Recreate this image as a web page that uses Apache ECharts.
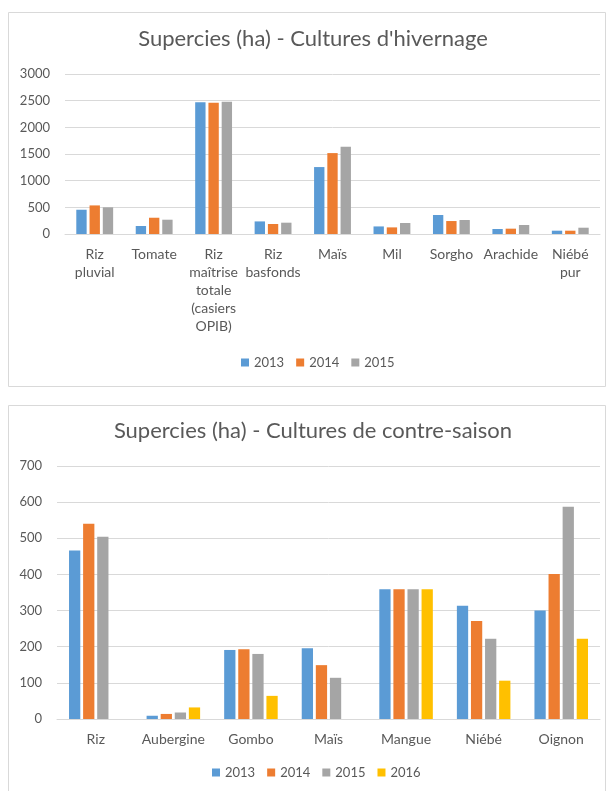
<!DOCTYPE html>
<html>
<head>
<meta charset="utf-8">
<script src="https://cdn.jsdelivr.net/npm/echarts@6/dist/echarts.min.js"></script>
<style>
  html, body { margin: 0; padding: 0; background: #fff; }
  #hivernage { position: absolute; left: 0; top: 0; width: 614px; height: 395px; }
  #contreSaison { position: absolute; left: 0; top: 395px; width: 614px; height: 396px; }
</style>
</head>
<body>
<div id="hivernage"></div>
<div id="contreSaison"></div>
<script>
// cultures d'hivernage
var hivCategories = ["Riz\npluvial", "Tomate", "Riz\nmaîtrise\ntotale\n(casiers\nOPIB)", "Riz\nbasfonds", "Maïs", "Mil", "Sorgho", "Arachide", "Niébé\npur"];
var hiv2013 = [455, 150, 2470, 236, 1255, 142, 356, 94, 62];
var hiv2014 = [536, 305, 2460, 187, 1517, 124, 243, 100, 62];
var hiv2015 = [500, 268, 2480, 212, 1635, 206, 262, 169, 118];

// cultures de contre-saison
var csCategories = ["Riz", "Aubergine", "Gombo", "Maïs", "Mangue", "Niébé", "Oignon"];
var cs2013 = [466, 9, 191, 196, 359, 313, 300];
var cs2014 = [540, 14, 193, 149, 359, 271, 401];
var cs2015 = [504, 18, 180, 114, 359, 222, 587];
var cs2016 = ["-", 32, 64, "-", 359, 106, 222];

var years = ["2013", "2014", "2015", "2016"];
var colors = ["#5B9BD5", "#ED7D31", "#A5A5A5", "#FFC000"];
var txt = "#595959";
var font = "Lato";

function frame(y, h) {
  return [{
    type: "rect",
    shape: { x: 8.5, y: y + 0.5, width: 597, height: h },
    style: { fill: "none", stroke: "#D9D9D9", lineWidth: 1 },
    silent: true
  }];
}

function barSeries(name, data, i) {
  return {
    name: name,
    type: "bar",
    data: data,
    itemStyle: { color: colors[i] },
    barGap: "28%",
    barCategoryGap: "38%"
  };
}

function plain(v) { return String(v); }

// graphique du haut
var chart1 = echarts.init(document.getElementById("hivernage"));
chart1.setOption({
  animation: false,
  color: colors,
  textStyle: { fontFamily: font },
  graphic: frame(12, 374),
  title: {
    text: "Supercies (ha) - Cultures d'hivernage",
    left: 313,
    top: 28,
    padding: 0,
    textAlign: "center",
    textStyle: { color: txt, fontSize: 22, fontWeight: "normal", fontFamily: font }
  },
  legend: {
    data: years.slice(0, 3),
    left: 241,
    top: 356,
    padding: 0,
    icon: "rect",
    itemWidth: 8,
    itemHeight: 8,
    itemGap: 12,
    textStyle: { color: txt, fontSize: 13, fontFamily: font }
  },
  grid: { left: 65, right: 14, top: 74, bottom: 161 },
  xAxis: {
    type: "category",
    data: hivCategories,
    axisTick: { show: false },
    axisLine: { lineStyle: { color: "#D9D9D9" } },
    axisLabel: { interval: 0, color: txt, fontSize: 14, lineHeight: 18, margin: 11, fontFamily: font }
  },
  yAxis: {
    type: "value",
    min: 0,
    max: 3000,
    interval: 500,
    axisLine: { show: false },
    axisTick: { show: false },
    splitLine: { lineStyle: { color: "#D9D9D9" } },
    axisLabel: { color: txt, fontSize: 13, margin: 15, fontFamily: font, formatter: plain }
  },
  series: [
    barSeries("2013", hiv2013, 0),
    barSeries("2014", hiv2014, 1),
    barSeries("2015", hiv2015, 2)
  ]
});

// graphique du bas
var chart2 = echarts.init(document.getElementById("contreSaison"));
var csSeries = [
  barSeries("2013", cs2013, 0),
  barSeries("2014", cs2014, 1),
  barSeries("2015", cs2015, 2),
  barSeries("2016", cs2016, 3)
];
csSeries.forEach(function (s) { s.barGap = "25%"; s.barCategoryGap = "31%"; });
chart2.setOption({
  animation: false,
  color: colors,
  textStyle: { fontFamily: font },
  graphic: frame(10, 420),
  title: {
    text: "Supercies (ha) - Cultures de contre-saison",
    left: 313,
    top: 25,
    padding: 0,
    textAlign: "center",
    textStyle: { color: txt, fontSize: 22, fontWeight: "normal", fontFamily: font }
  },
  legend: {
    data: years,
    left: 212,
    top: 371,
    padding: 0,
    icon: "rect",
    itemWidth: 8,
    itemHeight: 8,
    itemGap: 12,
    textStyle: { color: txt, fontSize: 13, fontFamily: font }
  },
  grid: { left: 57, right: 14, top: 71, bottom: 72 },
  xAxis: {
    type: "category",
    data: csCategories,
    axisTick: { show: false },
    axisLine: { lineStyle: { color: "#D9D9D9" } },
    axisLabel: { interval: 0, color: txt, fontSize: 14, lineHeight: 18, margin: 11, fontFamily: font }
  },
  yAxis: {
    type: "value",
    min: 0,
    max: 700,
    interval: 100,
    axisLine: { show: false },
    axisTick: { show: false },
    splitLine: { lineStyle: { color: "#D9D9D9" } },
    axisLabel: { color: txt, fontSize: 13, margin: 15, fontFamily: font, formatter: plain }
  },
  series: csSeries
});
</script>
</body>
</html>
